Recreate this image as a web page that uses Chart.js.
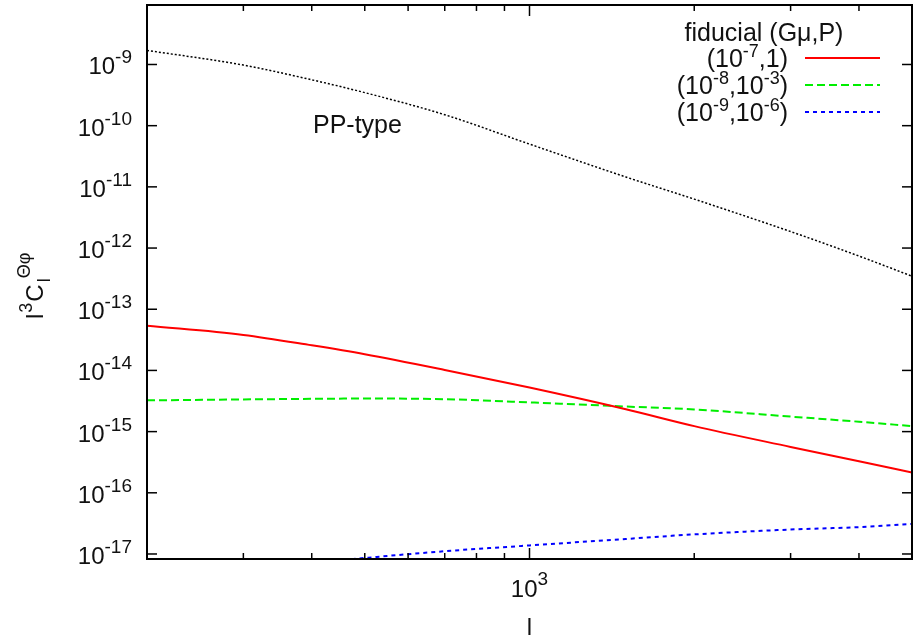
<!DOCTYPE html>
<html>
<head>
<meta charset="utf-8">
<script src="https://cdn.jsdelivr.net/npm/chart.js@4"></script>
<style>
  html, body { margin: 0; padding: 0; background: #fff; }
  #wrap { width: 916px; height: 640px; }
</style>
</head>
<body>
<div id="wrap"><canvas id="chart" width="916" height="640"></canvas></div>
<script>
// multipole l and the four curves
const ells = [200, 300, 400, 500, 700, 1000, 1500, 2000, 3000, 4000, 5000];
const ppType = [1.70e-9, 9.77e-10, 5.62e-10, 3.47e-10, 1.51e-10, 5.0e-11, 1.45e-11, 6.3e-12, 1.86e-12, 7.4e-13, 3.47e-13];
const fid1 = [5.37e-14, 3.80e-14, 2.57e-14, 1.84e-14, 1.02e-14, 5.25e-15, 2.32e-15, 1.23e-15, 5.62e-16, 3.27e-16, 2.14e-16];
const fid2 = [3.24e-15, 3.36e-15, 3.43e-15, 3.47e-15, 3.39e-15, 3.0e-15, 2.57e-15, 2.3e-15, 1.76e-15, 1.45e-15, 1.23e-15];
const fid3 = [null, null, 7.1e-18, 8.6e-18, 1.11e-17, 1.38e-17, 1.76e-17, 2.09e-17, 2.51e-17, 2.75e-17, 3.09e-17];

// axis ticks
const yTickExps = [-9, -10, -11, -12, -13, -14, -15, -16, -17];
const xMajor = [1000];
const xMinor = [300, 400, 500, 600, 700, 800, 900, 2000, 3000, 4000];

// legend entries: [text, superscript] pieces
const legendTitle = 'fiducial (G\u03bc,P)';
const legendParts = [
    [['(10', ''], ['', '-7'], [',1)', '']],
    [['(10', ''], ['', '-8'], [',10', ''], ['', '-3'], [')', '']],
    [['(10', ''], ['', '-9'], [',10', ''], ['', '-6'], [')', '']]
];

const FONT = '"Liberation Sans", Arial, sans-serif';
const TXT = '#111';

function pts(vals) {
    return ells.map((l, i) => ({ x: l, y: vals[i] }));
}

function drawPieces(ctx, pieces, xRight, baseline, bigSize, supSize, raise) {
    let total = 0;
    pieces.forEach(p => {
        ctx.font = bigSize + 'px ' + FONT;
        total += ctx.measureText(p[0]).width;
        ctx.font = supSize + 'px ' + FONT;
        total += ctx.measureText(p[1]).width;
    });
    let cx = xRight - total;
    ctx.textAlign = 'left';
    ctx.textBaseline = 'alphabetic';
    pieces.forEach(p => {
        ctx.font = bigSize + 'px ' + FONT;
        ctx.fillText(p[0], cx, baseline);
        cx += ctx.measureText(p[0]).width;
        ctx.font = supSize + 'px ' + FONT;
        ctx.fillText(p[1], cx, baseline - raise);
        cx += ctx.measureText(p[1]).width;
    });
    return total;
}

const frameAndLabels = {
    id: 'frameAndLabels',
    afterDraw(chart) {
        const ctx = chart.ctx;
        const a = chart.chartArea;
        const xs = chart.scales.x;
        const ys = chart.scales.y;
        ctx.save();
        ctx.strokeStyle = '#000';
        ctx.fillStyle = TXT;

        const seg = (x1, y1, x2, y2) => {
            ctx.beginPath();
            ctx.moveTo(x1, y1);
            ctx.lineTo(x2, y2);
            ctx.stroke();
        };

        // ticks, inward on all four sides
        ctx.lineWidth = 1.5;
        yTickExps.forEach(e => {
            const py = ys.getPixelForValue(Math.pow(10, e));
            seg(a.left, py, a.left + 10, py);
            seg(a.right, py, a.right - 10, py);
            drawPieces(ctx, [['10', String(e)]], 132, py + 10, 24, 19, 11);
        });
        xMinor.forEach(v => {
            const px = xs.getPixelForValue(v);
            seg(px, a.bottom, px, a.bottom - 6);
            seg(px, a.top, px, a.top + 6);
        });
        xMajor.forEach(v => {
            const px = xs.getPixelForValue(v);
            seg(px, a.bottom, px, a.bottom - 11);
            seg(px, a.top, px, a.top + 11);
            const ex = String(Math.round(Math.log10(v)));
            ctx.font = '24px ' + FONT;
            const w = ctx.measureText('10').width;
            ctx.font = '19px ' + FONT;
            const we = ctx.measureText(ex).width;
            drawPieces(ctx, [['10', ex]], px + (w + we) / 2, 597, 24, 19, 12);
        });

        // frame
        ctx.lineWidth = 2;
        ctx.strokeRect(a.left, a.top, a.right - a.left, a.bottom - a.top);

        // x title
        ctx.font = '24px ' + FONT;
        ctx.textAlign = 'center';
        ctx.fillText('l', xs.getPixelForValue(1000), 635);

        // y title, rotated
        ctx.save();
        ctx.translate(43, 319);
        ctx.rotate(-Math.PI / 2);
        ctx.textAlign = 'left';
        let cx = 0;
        ctx.font = '24px ' + FONT;
        ctx.fillText('l', cx, 0);
        cx += ctx.measureText('l').width + 1;
        ctx.font = '18px ' + FONT;
        ctx.fillText('3', cx, -11);
        cx += ctx.measureText('3').width + 1;
        ctx.font = '24px ' + FONT;
        ctx.fillText('C', cx, 0);
        cx += ctx.measureText('C').width + 2;
        ctx.font = '18px ' + FONT;
        ctx.fillText('l', cx, 7);
        ctx.fillText('\u0398\u03c6', cx + 4, -13);
        ctx.restore();

        // PP-type label
        ctx.font = '25px ' + FONT;
        ctx.textAlign = 'left';
        ctx.fillText('PP-type', 313, 133);

        // key
        ctx.textAlign = 'center';
        ctx.font = '25px ' + FONT;
        ctx.fillText(legendTitle, 764, 41);
        const rows = [58, 85, 112];
        legendParts.forEach((parts, i) => {
            const ds = chart.data.datasets[i + 1];
            drawPieces(ctx, parts, 788, rows[i] + 9, 25, 18, 10);
            ctx.save();
            ctx.strokeStyle = ds.borderColor;
            ctx.lineWidth = ds.borderWidth;
            ctx.setLineDash(ds.borderDash || []);
            seg(805, rows[i], 880, rows[i]);
            ctx.restore();
        });
        ctx.restore();
    }
};

new Chart(document.getElementById('chart'), {
    type: 'line',
    data: {
        datasets: [
            { label: 'PP-type', data: pts(ppType), borderColor: '#000000', borderWidth: 1.5, borderDash: [2, 2] },
            { label: '(1e-7,1)', data: pts(fid1), borderColor: '#ff0000', borderWidth: 2, borderDash: [] },
            { label: '(1e-8,1e-3)', data: pts(fid2), borderColor: '#00ee00', borderWidth: 2, borderDash: [8, 4] },
            { label: '(1e-9,1e-6)', data: pts(fid3), borderColor: '#0000ff', borderWidth: 2, borderDash: [4, 4] }
        ]
    },
    options: {
        responsive: false,
        animation: false,
        parsing: false,
        layout: {
            padding: { left: 147, right: 4, top: 5, bottom: 81 }
        },
        elements: {
            point: { radius: 0 },
            line: { cubicInterpolationMode: 'monotone', fill: false }
        },
        datasets: {
            line: { clip: 0 }
        },
        scales: {
            x: { type: 'logarithmic', min: 200, max: 5000, display: false },
            y: { type: 'logarithmic', min: 8.28e-18, max: 9.38e-9, display: false }
        },
        plugins: {
            legend: { display: false },
            tooltip: { enabled: false }
        }
    },
    plugins: [frameAndLabels]
});
</script>
</body>
</html>
